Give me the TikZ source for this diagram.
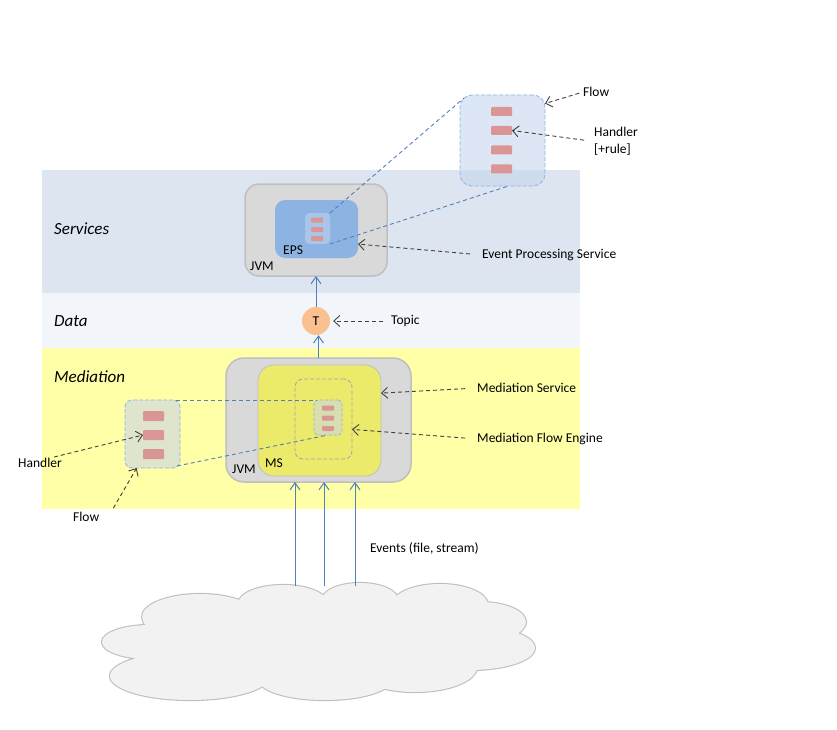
\documentclass[tikz,border=0pt]{standalone}
\usepackage{fontspec}
\setmainfont{Carlito}
\usetikzlibrary{arrows.meta,calc}
\definecolor{bandS}{HTML}{DDE5F0}
\definecolor{bandD}{HTML}{F2F5FA}
\definecolor{bandM}{HTML}{FFFFA8}
\definecolor{jvmfill}{HTML}{D9D9D9}
\definecolor{jvmline}{HTML}{BFBFBF}
\definecolor{epsfill}{HTML}{8DB3E2}
\definecolor{epshfill}{HTML}{A9C5EA}
\definecolor{pink}{HTML}{D99694}
\definecolor{flowfill}{HTML}{C5D6EC}
\definecolor{flowline}{HTML}{8DB4E2}
\definecolor{tfill}{HTML}{FAC090}
\definecolor{msfill}{HTML}{EBEA6B}
\definecolor{enggray}{HTML}{A6A6A6}
\definecolor{mshfill}{HTML}{D8DEB0}
\definecolor{lflowfill}{HTML}{DFE4CC}
\definecolor{bluel}{HTML}{4F81BD}
\definecolor{darkl}{HTML}{404040}
\definecolor{cloudfill}{HTML}{F2F2F2}
\definecolor{cloudline}{HTML}{BFBFBF}
\begin{document}
\begin{tikzpicture}[x=1pt,y=-1pt,
  box/.style={inner sep=0pt, outer sep=0pt},
  jvmbox/.style={box, fill=jvmfill, draw=jvmline, line width=1.5pt},
  bar/.style={box, fill=pink, rounded corners=1pt},
  flowbox/.style={box, fill=flowfill, fill opacity=0.6, draw=flowline, draw opacity=1, dash pattern=on 4pt off 2pt, line width=0.8pt},
  lbl/.style={inner sep=0pt, anchor=west, font=\fontsize{13.5}{17}\selectfont},
  band/.style={inner sep=0pt, anchor=west, font=\fontsize{17}{20}\selectfont\itshape},
  darr/.style={draw=darkl, line width=0.9pt, dash pattern=on 4pt off 3pt, -{Straight Barb[length=6pt,width=11pt]}},
  barr/.style={draw=bluel, line width=1pt, -{Straight Barb[length=7pt,width=10pt]}},
  conn/.style={draw=bluel, line width=0.9pt, dash pattern=on 4pt off 3pt}
]
\useasboundingbox (0,0) rectangle (837,730);
% bands
\fill[bandS] (42,170) rectangle (580,293);
\fill[bandD] (42,293) rectangle (580,348);
\fill[bandM] (42,348) rectangle (580,509);
\node[band] (tS) at (54,229) {Services};
\node[band] (tD) at (54,321) {Data};
\node[band] (tM) at (54,377) {Mediation};

% cloud
\begin{scope}
\def\cloudpieces{
  (200,617) ellipse [x radius=58pt, y radius=23pt]
  (283,604) ellipse [x radius=45pt, y radius=19pt]
  (360,600) ellipse [x radius=38pt, y radius=17pt]
  (440,605) ellipse [x radius=48pt, y radius=21pt]
  (480,622) ellipse [x radius=46pt, y radius=20pt]
  (470,648) ellipse [x radius=65pt, y radius=22pt]
  (415,667) ellipse [x radius=62pt, y radius=25pt]
  (325,680) ellipse [x radius=66pt, y radius=20pt]
  (190,676) ellipse [x radius=80pt, y radius=24pt]
  (150,642) ellipse [x radius=48pt, y radius=17pt]
  (330,640) ellipse [x radius=150pt, y radius=40pt]
}
\draw[cloudline, line width=2.2pt] \cloudpieces;
\fill[cloudfill] \cloudpieces;
\end{scope}

% upper JVM and EPS
\node[jvmbox, rounded corners=14pt, minimum width=142pt, minimum height=92pt] (jvm1) at (316,230) {};
\node[box, fill=epsfill, rounded corners=10pt, minimum width=83pt, minimum height=58pt] (eps) at (316.5,229) {};
\node[box, fill=epshfill, rounded corners=4pt, minimum width=25pt, minimum height=31pt] (epsh) at (317.5,228.5) {};
\node[bar, minimum width=12pt, minimum height=5pt] (eb1) at (317,220) {};
\node[bar, minimum width=12pt, minimum height=5pt] (eb2) at (317,229.5) {};
\node[bar, minimum width=12pt, minimum height=5pt] (eb3) at (317,238.5) {};
\node[lbl] (tEPS) at (283,250) {EPS};
\node[lbl] (tJVM1) at (250,266) {JVM};

% flow box top right
\node[flowbox, rounded corners=12pt, minimum width=85pt, minimum height=91pt] (flow) at (502.5,140.5) {};
\node[bar, minimum width=21pt, minimum height=9pt] (fb1) at (501.5,111.5) {};
\node[bar, minimum width=21pt, minimum height=9pt] (fb2) at (501.5,130.5) {};
\node[bar, minimum width=21pt, minimum height=9pt] (fb3) at (501.5,150) {};
\node[bar, minimum width=21pt, minimum height=9pt] (fb4) at (501.5,169) {};
\draw[conn] (epsh.north east) -- ($(flow.north west)+(4,3)$);
\draw[conn] (epsh.south east) -- ($(flow.south)+(6,0)$);

% topic
\node[circle, fill=tfill, minimum size=28pt, inner sep=0pt, font=\fontsize{13.5}{16}\selectfont] (T) at (316,321) {T};

% lower JVM and MS
\node[jvmbox, rounded corners=18pt, minimum width=185pt, minimum height=124pt] (jvm2) at (318.5,420) {};
\node[box, fill=msfill, draw=jvmline, line width=0.8pt, rounded corners=16pt, minimum width=123pt, minimum height=111pt] (ms) at (319.5,420.5) {};
\node[box, draw=enggray, dash pattern=on 4pt off 2pt, line width=0.8pt, rounded corners=8pt, minimum width=57pt, minimum height=80pt] (eng) at (323.5,419) {};
\node[box, fill=mshfill, draw=flowline, dash pattern=on 3pt off 2pt, line width=0.7pt, rounded corners=4pt, minimum width=28pt, minimum height=35pt] (msh) at (328,417.5) {};
\node[bar, minimum width=12pt, minimum height=5pt] (mb1) at (328,408) {};
\node[bar, minimum width=12pt, minimum height=5pt] (mb2) at (328,418) {};
\node[bar, minimum width=12pt, minimum height=5pt] (mb3) at (328,428.5) {};
\node[lbl] (tMS) at (265,463) {MS};
\node[lbl] (tJVM2) at (232,469) {JVM};

% left flow box
\node[box, fill=lflowfill, draw=flowline, dash pattern=on 4pt off 2pt, line width=0.8pt, rounded corners=7pt, minimum width=55pt, minimum height=68pt] (lflow) at (152.5,434) {};
\node[bar, minimum width=21pt, minimum height=10pt] (lb1) at (153.5,416) {};
\node[bar, minimum width=21pt, minimum height=10pt] (lb2) at (153.5,435) {};
\node[bar, minimum width=21pt, minimum height=10pt] (lb3) at (153.5,454) {};
\draw[conn] ($(lflow.north east)+(-4,0)$) -- ($(msh.north west)+(3,0)$);
\draw[conn] ($(lflow.south east)+(-3,-2)$) -- (msh.south);

% blue arrows
\draw[barr] (T.north) -- (jvm1.south);
\draw[barr] (jvm2.north) -- (jvm2.north |- T.south);
\coordinate (e1) at (295,586);
\coordinate (e2) at (324,586);
\coordinate (e3) at (355,586);
\draw[barr] (e1) -- (e1 |- jvm2.south);
\draw[barr] (e2) -- (e2 |- jvm2.south);
\draw[barr] (e3) -- (e3 |- jvm2.south);

% labels
\node[lbl] (lFlow) at (583,92) {Flow};
\node[lbl, align=left] (lHand) at (594,141.5) {Handler\\{}[+rule]};
\node[lbl] (lEPS) at (482,255) {Event Processing Service};
\node[lbl] (lTopic) at (391,321) {Topic};
\node[lbl] (lMS) at (477,388) {Mediation Service};
\node[lbl] (lMFE) at (477,439) {Mediation Flow Engine};
\node[lbl] (lHandL) at (18,463) {Handler};
\node[lbl] (lFlowL) at (73,517) {Flow};
\node[lbl] (lEv) at (370,548) {Events (file, stream)};

% dashed label arrows
\draw[darr, shorten <=4pt] (lFlow.west) -- (flow.41);
\draw[darr, shorten <=10pt] (lHand.west) -- (fb2.east);
\draw[darr, shorten <=12pt] (lEPS.west) -- (eps.-20);
\draw[darr, shorten <=8pt] (lTopic.west) -- ($(T.east)+(3,0)$);
\draw[darr, shorten <=12pt] (lMS.west) -- (ms.24);
\draw[darr, shorten <=12pt] (lMFE.west) -- (eng.-20);
\draw[darr] ($(lHandL.north east)+(-8,-1)$) -- (lb2.west);
\draw[darr] ($(lFlowL.north east)+(14,-4)$) -- (lflow.-115);
\end{tikzpicture}
\end{document}
